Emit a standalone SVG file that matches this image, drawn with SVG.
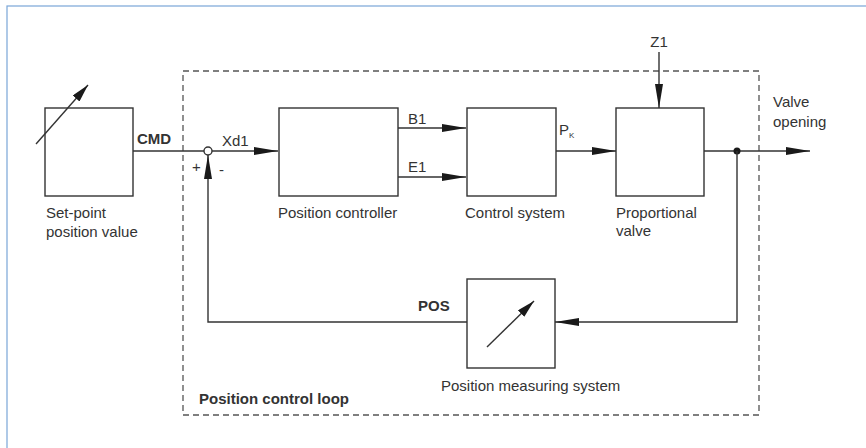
<svg xmlns="http://www.w3.org/2000/svg" width="866" height="448" viewBox="0 0 866 448">
<style>
text{font-family:"Liberation Sans",Arial,sans-serif;font-size:15px;fill:#333}
.b{font-weight:bold}
.box{fill:none;stroke:#333;stroke-width:1.4}
.ln{fill:none;stroke:#333;stroke-width:1.4}
.dash{fill:none;stroke:#555;stroke-width:1.3;stroke-dasharray:6 4}
</style>
<defs>
<marker id="ah" viewBox="0 0 24 8" refX="24" refY="4" markerWidth="24" markerHeight="8" markerUnits="userSpaceOnUse" orient="auto">
<path d="M0,0 L24,4 L0,8 Z" fill="#1a1a1a"/>
</marker>
<marker id="ahs" viewBox="0 0 18 9" refX="18" refY="4.5" markerWidth="18" markerHeight="9" markerUnits="userSpaceOnUse" orient="auto">
<path d="M0,0 L18,4.5 L0,9 Z" fill="#1a1a1a"/>
</marker>
</defs>
<rect x="0" y="0" width="866" height="448" fill="#fff"/>
<rect x="7" y="6" width="900" height="500" fill="none" stroke="#7aa6d8" stroke-width="1.2"/>
<g id="loop">
<rect class="dash" x="183" y="71" width="576" height="344"/>
<text class="b" x="199" y="404">Position control loop</text>
</g>
<g id="setpoint">
<rect class="box" x="45" y="108" width="88" height="88"/>
<line class="ln" x1="36" y1="144" x2="88" y2="85" marker-end="url(#ahs)"/>
<text x="46" y="218">Set-point</text>
<text x="46" y="237">position value</text>
</g>
<g id="sum">
<circle cx="208" cy="151" r="4" fill="#fff" stroke="#333" stroke-width="1.4"/>
<text x="192" y="172">+</text>
<text x="219" y="175">-</text>
</g>
<g id="controller">
<rect class="box" x="279" y="108" width="119" height="88"/>
<text x="278" y="218">Position controller</text>
</g>
<g id="control">
<rect class="box" x="467" y="108" width="89" height="88"/>
<text x="465" y="218">Control system</text>
</g>
<g id="valve">
<rect class="box" x="616" y="108" width="88" height="88"/>
<text x="616" y="218">Proportional</text>
<text x="616" y="236">valve</text>
</g>
<g id="measure">
<rect class="box" x="467" y="279" width="88" height="89"/>
<line class="ln" x1="487" y1="347" x2="534" y2="301" marker-end="url(#ahs)"/>
<text x="441" y="391">Position measuring system</text>
</g>
<g id="connectors">
<line class="ln" x1="133" y1="151" x2="204" y2="151"/>
<text class="b" x="137" y="144">CMD</text>
<line class="ln" x1="212" y1="151" x2="278" y2="151" marker-end="url(#ah)"/>
<text x="222" y="146">Xd1</text>
<line class="ln" x1="398" y1="128" x2="466" y2="128" marker-end="url(#ah)"/>
<text x="408" y="124">B1</text>
<line class="ln" x1="398" y1="177" x2="466" y2="177" marker-end="url(#ah)"/>
<text x="408" y="172">E1</text>
<line class="ln" x1="556" y1="151" x2="616" y2="151" marker-end="url(#ah)"/>
<text x="559" y="135">P<tspan font-size="8" dy="3">K</tspan></text>
<line class="ln" x1="659" y1="52" x2="659" y2="108" marker-end="url(#ah)"/>
<text x="659" y="47" text-anchor="middle">Z1</text>
<line class="ln" x1="704" y1="151" x2="810" y2="151" marker-end="url(#ah)"/>
<circle cx="737" cy="151" r="3.5" fill="#1a1a1a"/>
<text x="773" y="107">Valve</text>
<text x="773" y="127">opening</text>
<polyline class="ln" points="737,151 737,322 555,322" marker-end="url(#ah)"/>
<polyline class="ln" points="467,322 208,322 208,155" marker-end="url(#ah)"/>
<text class="b" x="418" y="311">POS</text>
</g>
</svg>
